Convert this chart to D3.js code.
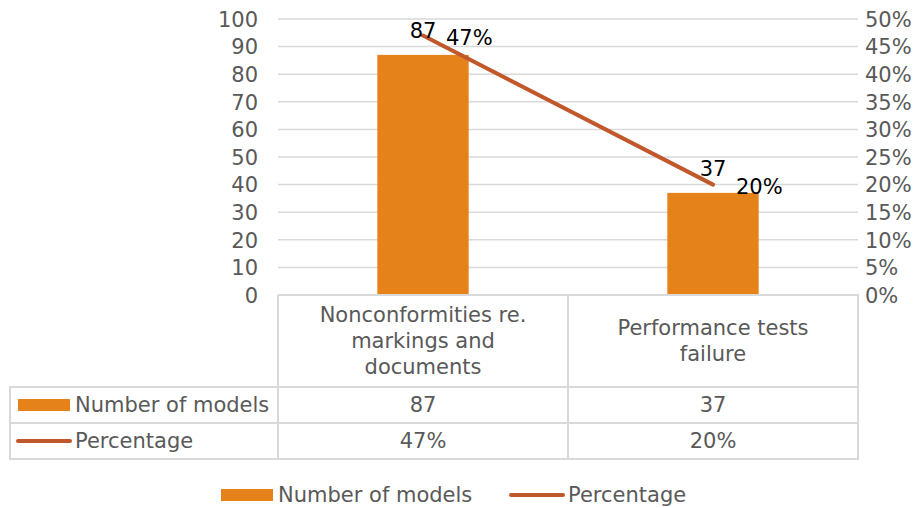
<!DOCTYPE html>
<html>
<head>
<meta charset="utf-8">
<script src="https://cdn.jsdelivr.net/npm/d3@7"></script>
<style>
  body { margin: 0; background: #fff; }
  svg { display: block; font-family: "DejaVu Sans", sans-serif; }
  svg text { font-family: "DejaVu Sans", sans-serif; font-size: 21px; }
</style>
</head>
<body>
<div id="chart"></div>
<script>
// data
const categories = [["Nonconformities re.", "markings and", "documents"], ["Performance tests", "failure"]];
const models = [87, 37];
const percentage = [0.47, 0.20];
const seriesNames = ["Number of models", "Percentage"];

const width = 922, height = 508;
const barColor = "#E6821A", lineColor = "#C0582C", textColor = "#595959", gridColor = "#d9d9d9";
const pct = d3.format(".0%");

const svg = d3.select("#chart").append("svg")
  .attr("xmlns", "http://www.w3.org/2000/svg")
  .attr("width", width)
  .attr("height", height);

const plotLeft = 278, plotRight = 858, plotTop = 19, plotBottom = 295;

let x = d3.scaleBand()
  .domain(d3.range(categories.length))
  .range([plotLeft, plotRight]);

let y = d3.scaleLinear().domain([0, 100]).range([plotBottom, plotTop]);
let y2 = d3.scaleLinear().domain([0, 0.5]).range([plotBottom, plotTop]);

// gridlines
svg.append("g")
  .selectAll("line")
  .data(y.ticks(10).filter(d => d > 0))
  .enter().append("line")
  .attr("x1", plotLeft).attr("x2", plotRight)
  .attr("y1", d => y(d)).attr("y2", d => y(d))
  .attr("stroke", gridColor).attr("stroke-width", 1.5);

// left axis
const yAxis = svg.append("g")
  .attr("transform", "translate(" + (plotLeft - 20) + ",0)")
  .call(d3.axisLeft(y).ticks(10).tickSize(0).tickPadding(0));
yAxis.select(".domain").remove();
yAxis.selectAll("text").attr("fill", textColor).attr("dy", "0.35em");

// right axis
const y2Axis = svg.append("g")
  .attr("transform", "translate(" + (plotRight + 7) + ",0)")
  .call(d3.axisRight(y2).ticks(10, "%").tickSize(0).tickPadding(0));
y2Axis.select(".domain").remove();
y2Axis.selectAll("text").attr("fill", textColor).attr("dy", "0.35em");

// bars
const barW = x.bandwidth() * 0.315;
svg.append("g")
  .selectAll("rect")
  .data(models)
  .enter().append("rect")
  .attr("x", (d, i) => x(i) + x.bandwidth() / 2 - barW / 2)
  .attr("y", d => y(d))
  .attr("width", barW)
  .attr("height", d => y(0) - y(d))
  .attr("fill", barColor);

// line
const line = d3.line()
  .x((d, i) => x(i) + x.bandwidth() / 2)
  .y(d => y2(d));
svg.append("path")
  .datum(percentage)
  .attr("d", line)
  .attr("fill", "none")
  .attr("stroke", lineColor)
  .attr("stroke-width", 4)
  .attr("stroke-linecap", "round");

// data labels: bar values above the bar, percentages right of the point
svg.append("g")
  .selectAll("text")
  .data(models)
  .enter().append("text")
  .attr("x", (d, i) => x(i) + x.bandwidth() / 2)
  .attr("y", d => y(d) - 17)
  .attr("text-anchor", "middle")
  .attr("fill", "#000")
  .text(d => d);

svg.append("g")
  .selectAll("text")
  .data(percentage)
  .enter().append("text")
  .attr("x", (d, i) => x(i) + x.bandwidth() / 2 + 23)
  .attr("y", d => y2(d) + 9)
  .attr("fill", "#000")
  .text(d => pct(d));

// data table
const tableLeft = 10, headBottom = 387, rowH = 36;
const tg = svg.append("g").attr("stroke", gridColor).attr("stroke-width", 2).attr("fill", "none");
tg.append("path").attr("d",
  "M" + plotLeft + "," + plotBottom + "H" + plotRight + "V" + (headBottom + 2 * rowH) +
  "H" + tableLeft + "V" + headBottom + "H" + plotRight +
  "M" + tableLeft + "," + (headBottom + rowH) + "H" + plotRight);
x.domain().forEach(i => {
  tg.append("line").attr("x1", x(i)).attr("x2", x(i)).attr("y1", plotBottom).attr("y2", headBottom + 2 * rowH);
});

// category headers
const heads = svg.append("g")
  .selectAll("text")
  .data(categories)
  .enter().append("text")
  .attr("text-anchor", "middle")
  .attr("fill", textColor);
heads.each(function(lines, i) {
  const n = lines.length;
  const cy = (plotBottom + headBottom) / 2;
  d3.select(this).selectAll("tspan")
    .data(lines)
    .enter().append("tspan")
    .attr("x", x(i) + x.bandwidth() / 2)
    .attr("y", (d, j) => cy + (j - (n - 1) / 2) * 26 + 7)
    .text(d => d);
});

// table rows
const rows = [models.map(String), percentage.map(pct)];
rows.forEach((vals, r) => {
  const cy = headBottom + rowH * r + rowH / 2;
  svg.append("g")
    .selectAll("text")
    .data(vals)
    .enter().append("text")
    .attr("x", (d, i) => x(i) + x.bandwidth() / 2)
    .attr("y", cy + 7)
    .attr("text-anchor", "middle")
    .attr("fill", textColor)
    .text(d => d);
  // series key
  if (r === 0) {
    svg.append("rect").attr("x", 18).attr("y", cy - 6).attr("width", 52).attr("height", 12).attr("fill", barColor);
  } else {
    svg.append("line").attr("x1", 18).attr("x2", 70).attr("y1", cy).attr("y2", cy)
      .attr("stroke", lineColor).attr("stroke-width", 4).attr("stroke-linecap", "round");
  }
  svg.append("text").attr("x", 75).attr("y", cy + 7)
    .attr("fill", textColor).text(seriesNames[r]);
});

// legend
const lg = svg.append("g").attr("transform", "translate(0,495)");
lg.append("rect").attr("x", 221).attr("y", -6).attr("width", 52).attr("height", 12).attr("fill", barColor);
lg.append("text").attr("x", 278).attr("y", 7).attr("fill", textColor).text(seriesNames[0]);
lg.append("line").attr("x1", 511).attr("x2", 563).attr("y1", 0).attr("y2", 0)
  .attr("stroke", lineColor).attr("stroke-width", 4).attr("stroke-linecap", "round");
lg.append("text").attr("x", 568).attr("y", 7).attr("fill", textColor).text(seriesNames[1]);
</script>
</body>
</html>
